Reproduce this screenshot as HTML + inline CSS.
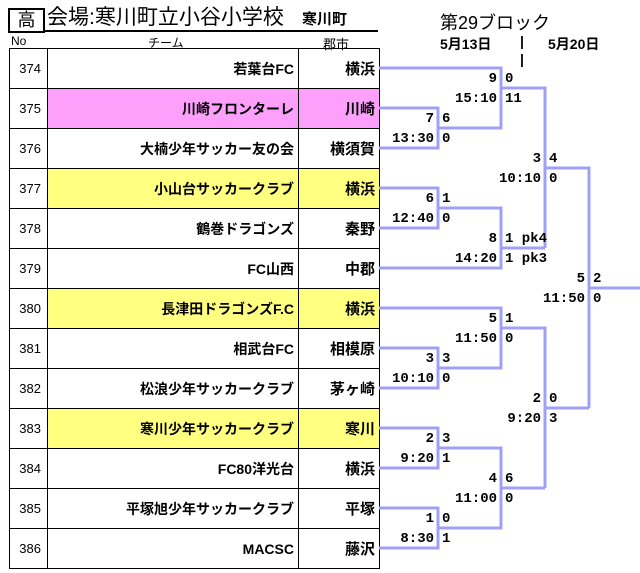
<!DOCTYPE html>
<html><head><meta charset="utf-8"><style>
body{margin:0;width:640px;height:573px;background:#fff;position:relative;overflow:hidden;font-family:"Liberation Sans","Noto Sans CJK JP",sans-serif;color:#000}
.a{position:absolute;white-space:nowrap}
table{position:absolute;left:9px;top:48px;border-collapse:collapse}
td{border:1.5px solid #000;height:39px;padding:0 4px;font-size:14px;text-align:right}
td.n{width:27px;font-size:13px;font-weight:normal;padding-right:6px}
td.t{width:242px;font-weight:bold}
td.c{width:72px;font-weight:bold;font-size:15px}
.p td.t,.p td.c{background:#fca0fc}
.y td.t,.y td.c{background:#ffff80}
.l{position:absolute;font-family:"Liberation Mono","Noto Sans CJK JP",monospace;font-weight:bold;font-size:14px;line-height:16px;white-space:nowrap}
</style></head><body>
<div class="a" style="left:8px;top:8px;width:33px;height:21px;border:2px solid #000;font-size:18px;line-height:21px;text-align:center">高</div>
<div class="a" style="left:47px;top:5px;font-size:21px;line-height:25px">会場:寒川町立小谷小学校</div>
<div class="a" style="left:302px;top:10px;font-size:15px;font-weight:bold;line-height:20px">寒川町</div>
<div class="a" style="left:45px;top:30px;width:333px;height:1.5px;background:#000"></div>
<div class="a" style="left:11px;top:34px;font-size:12px">No</div>
<div class="a" style="left:148px;top:34px;font-size:12px">チーム</div>
<div class="a" style="left:323px;top:34px;font-size:13px">郡市</div>
<div class="a" style="left:440px;top:9px;font-size:18px">第29ブロック</div>
<div class="a" style="left:440px;top:34px;font-size:14px;font-weight:bold">5月13日</div>
<div class="a" style="left:520px;top:33px;font-size:14px;font-weight:bold">|</div>
<div class="a" style="left:520px;top:51px;font-size:14px;font-weight:bold">|</div>
<div class="a" style="left:548px;top:34px;font-size:14px;font-weight:bold">5月20日</div>
<table>
<tr><td class="n">374</td><td class="t">若葉台FC</td><td class="c">横浜</td></tr>
<tr class="p"><td class="n">375</td><td class="t">川崎フロンターレ</td><td class="c">川崎</td></tr>
<tr><td class="n">376</td><td class="t">大楠少年サッカー友の会</td><td class="c">横須賀</td></tr>
<tr class="y"><td class="n">377</td><td class="t">小山台サッカークラブ</td><td class="c">横浜</td></tr>
<tr><td class="n">378</td><td class="t">鶴巻ドラゴンズ</td><td class="c">秦野</td></tr>
<tr><td class="n">379</td><td class="t">FC山西</td><td class="c">中郡</td></tr>
<tr class="y"><td class="n">380</td><td class="t">長津田ドラゴンズF.C</td><td class="c">横浜</td></tr>
<tr><td class="n">381</td><td class="t">相武台FC</td><td class="c">相模原</td></tr>
<tr><td class="n">382</td><td class="t">松浪少年サッカークラブ</td><td class="c">茅ヶ崎</td></tr>
<tr class="y"><td class="n">383</td><td class="t">寒川少年サッカークラブ</td><td class="c">寒川</td></tr>
<tr><td class="n">384</td><td class="t">FC80洋光台</td><td class="c">横浜</td></tr>
<tr><td class="n">385</td><td class="t">平塚旭少年サッカークラブ</td><td class="c">平塚</td></tr>
<tr><td class="n">386</td><td class="t">MACSC</td><td class="c">藤沢</td></tr>
</table>
<svg class="a" style="left:0;top:0" width="640" height="573" fill="none" stroke="#a0a0f4" stroke-width="3">
<polyline points="379,108 438,108 438,148 379,148"/>
<polyline points="379,68 501,68 501,128 438,128"/>
<polyline points="501,88 545,88 545,248"/>
<polyline points="379,188 438,188 438,228 379,228"/>
<polyline points="438,208 501,208 501,268 379,268"/>
<polyline points="501,248 545,248"/>
<polyline points="545,168 589,168 589,408"/>
<polyline points="589,288 640,288"/>
<polyline points="379,348 438,348 438,388 379,388"/>
<polyline points="379,308 501,308 501,368 438,368"/>
<polyline points="501,328 545,328 545,488"/>
<polyline points="379,428 438,428 438,468 379,468"/>
<polyline points="379,508 438,508 438,548 379,548"/>
<polyline points="438,448 501,448 501,528 438,528"/>
<polyline points="501,488 545,488"/>
<polyline points="545,408 589,408"/>
</svg>
<div id="labels"></div>
<script>
var L=[[438,128,"7","6","13:30","0"],[501,88,"9","0","15:10","11"],[438,208,"6","1","12:40","0"],[501,248,"8","1 pk4","14:20","1 pk3"],[545,168,"3","4","10:10","0"],[589,288,"5","2","11:50","0"],[438,368,"3","3","10:10","0"],[501,328,"5","1","11:50","0"],[438,448,"2","3","9:20","1"],[438,528,"1","0","8:30","1"],[501,488,"4","6","11:00","0"],[545,408,"2","0","9:20","3"]];
var h="";L.forEach(function(a){var x=a[0],y=a[1];
h+='<div class="l" style="right:'+(640-x+4)+'px;top:'+(y-17)+'px">'+a[2]+'</div>';
h+='<div class="l" style="left:'+(x+4)+'px;top:'+(y-17)+'px">'+a[3]+'</div>';
h+='<div class="l" style="right:'+(640-x+4)+'px;top:'+(y+3)+'px">'+a[4]+'</div>';
h+='<div class="l" style="left:'+(x+4)+'px;top:'+(y+3)+'px">'+a[5]+'</div>';});
document.getElementById("labels").innerHTML=h;
</script>
</body></html>
